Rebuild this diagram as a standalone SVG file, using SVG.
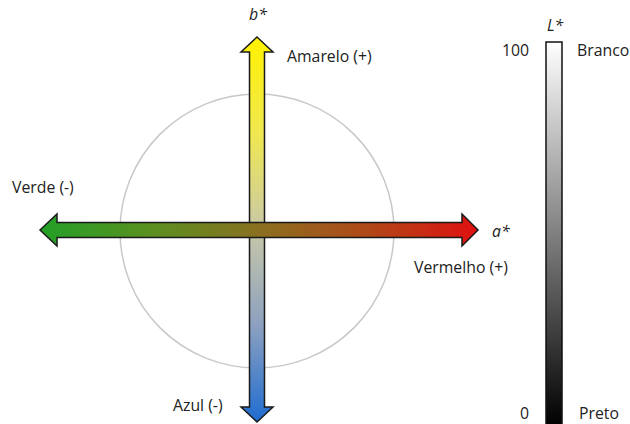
<svg xmlns="http://www.w3.org/2000/svg" width="630" height="424" viewBox="0 0 630 424">
<style>
text{font-family:"Open Sans","Liberation Sans",sans-serif;font-size:15.8px;fill:#222}
.it{font-style:italic}
.arrow{stroke:#1a1a1a;stroke-width:1.5;stroke-linejoin:miter}
</style>
<defs>
<linearGradient id="gv" gradientUnits="userSpaceOnUse" x1="0" y1="37" x2="0" y2="422">
<stop offset="0" stop-color="#fff200"/>
<stop offset="0.25" stop-color="#f0e850"/>
<stop offset="0.5" stop-color="#c8c8a8"/>
<stop offset="0.75" stop-color="#8ca0c0"/>
<stop offset="1" stop-color="#1e6cd0"/>
</linearGradient>
<linearGradient id="gh" gradientUnits="userSpaceOnUse" x1="40" y1="0" x2="478" y2="0">
<stop offset="0" stop-color="#22a028"/>
<stop offset="0.25" stop-color="#5a9020"/>
<stop offset="0.5" stop-color="#8a7020"/>
<stop offset="0.75" stop-color="#b04818"/>
<stop offset="1" stop-color="#e01010"/>
</linearGradient>
<linearGradient id="gl" x1="0" y1="0" x2="0" y2="1">
<stop offset="0" stop-color="#ffffff"/>
<stop offset="1" stop-color="#000000"/>
</linearGradient>
</defs>
<rect width="630" height="424" fill="#fff"/>
<g id="circle"><circle cx="257" cy="231" r="137" fill="none" stroke="#c8c8c8" stroke-width="1.5"/></g>
<g id="connectors">
<polygon id="b-axis" class="arrow" fill="url(#gv)" points="257,37 273,52 264.5,52 264.5,407 273,407 257,422 241,407 249.5,407 249.5,52 241,52"/>
<polygon id="a-axis" class="arrow" fill="url(#gh)" points="40,230 57,214 57,222.5 462,222.5 462,214 478,230 462,246 462,237.5 57,237.5 57,246"/>
</g>
<g id="lbar"><rect x="546" y="42" width="16" height="384" fill="url(#gl)" stroke="#111" stroke-width="1.5"/></g>
<g id="labels">
<text class="it" x="258" y="20" text-anchor="middle">b*</text>
<text x="287" y="62">Amarelo (+)</text>
<text x="12" y="193">Verde (-)</text>
<text class="it" x="492" y="237">a*</text>
<text x="414" y="273">Vermelho (+)</text>
<text x="173" y="411">Azul (-)</text>
<text class="it" x="555" y="31" text-anchor="middle">L*</text>
<text x="502" y="56">100</text>
<text x="577" y="56">Branco</text>
<text x="520" y="419">0</text>
<text x="579" y="419">Preto</text>
</g>
</svg>
